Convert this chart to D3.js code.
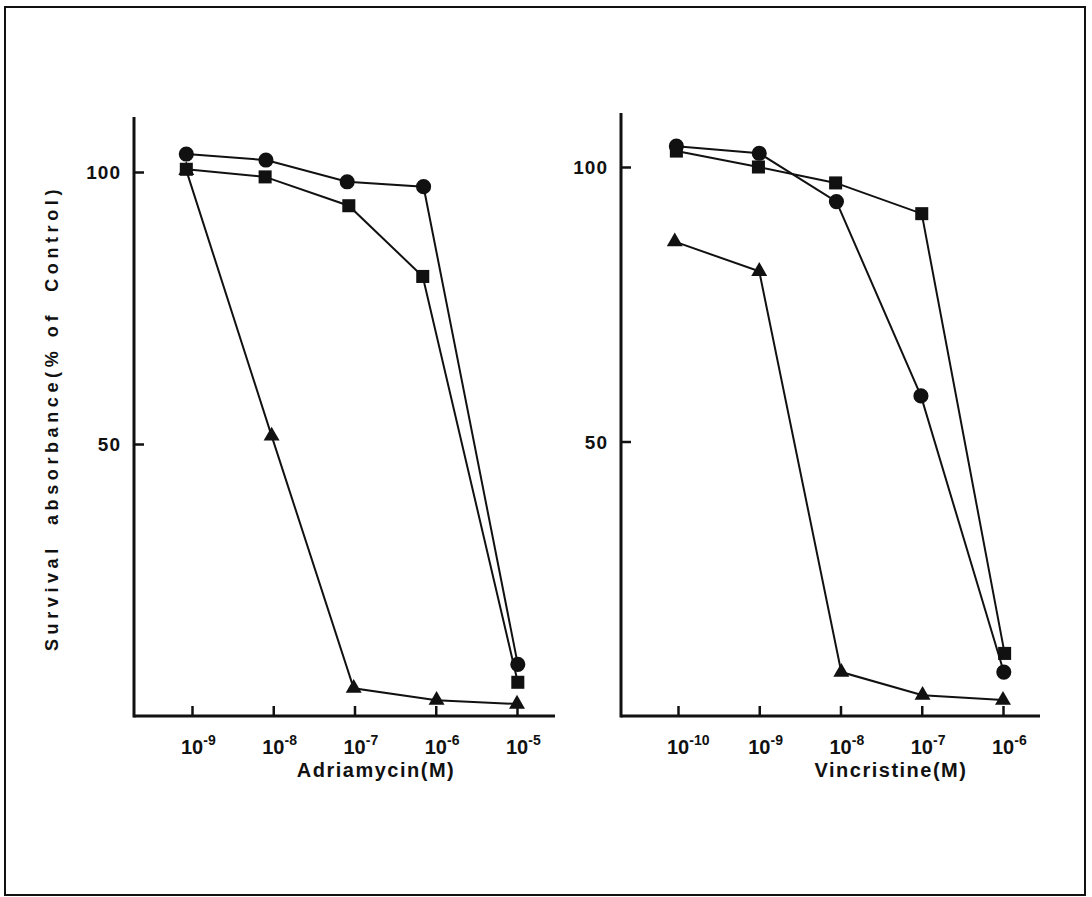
<!DOCTYPE html>
<html>
<head>
<meta charset="utf-8">
<script src="https://cdn.jsdelivr.net/npm/d3@7"></script>
<style>
  body { margin: 0; background: #fff; }
  text { font-family: "Liberation Sans", Arial, sans-serif; font-weight: bold; fill: #111; }
</style>
</head>
<body>
<script>
// values (x as log10 of molar concentration, y as % of control)
var adriaCircleX = [-9.07, -8.09, -7.09, -6.15, -4.99];
var adriaCircleY = [103.3, 102.2, 98.2, 97.3, 9.5];
var adriaSquareX = [-9.07, -8.10, -7.07, -6.16, -4.99];
var adriaSquareY = [100.5, 99.1, 93.8, 80.8, 6.2];
var adriaTriX = [-9.07, -8.02, -7.01, -5.99, -5.0];
var adriaTriY = [100.3, 51.5, 5.1, 2.9, 2.2];

var vinCircleX = [-10.02, -9.0, -8.05, -7.01, -5.99];
var vinCircleY = [103.8, 102.5, 93.7, 58.3, 8.0];
var vinSquareX = [-10.02, -9.01, -8.06, -7.0, -5.98];
var vinSquareY = [102.9, 100.0, 97.1, 91.5, 11.4];
var vinTriX = [-10.04, -9.0, -7.99, -6.99, -6.0];
var vinTriY = [86.4, 81.0, 8.0, 3.8, 2.9];

var adriaTicks = [-9, -8, -7, -6, -5];
var vinTicks = [-10, -9, -8, -7, -6];
var yTicks = [50, 100];

var w = 1092, h = 897;

var svg = d3.select("body")
            .append("svg")
            .attr("width", w)
            .attr("height", h);

// frame round the whole figure
svg.append("rect")
    .attr("x", 5).attr("y", 7)
    .attr("width", 1080).attr("height", 888)
    .attr("fill", "none")
    .attr("stroke", "#111")
    .attr("stroke-width", 2);

function zip(xs, ys) {
    return xs.map(function(x, i) { return {x: Math.pow(10, x), y: ys[i]}; });
}

function panel(p) {
    var x = d3.scaleLog()
        .domain([Math.pow(10, p.ticks[0]), Math.pow(10, p.ticks[p.ticks.length - 1])])
        .range([p.firstTick, p.lastTick]);
    var y = d3.scaleLinear().domain([0, 100]).range([p.bottom, p.y100]);

    var g = svg.append("g");

    // x axis, ticks pointing up into the plot
    var xa = g.append("g")
        .attr("transform", "translate(0," + p.bottom + ")")
        .call(d3.axisBottom(x)
            .tickValues(p.ticks.map(function(t) { return Math.pow(10, t); }))
            .tickSize(-10)
            .tickFormat(""));
    xa.select(".domain").remove();
    xa.selectAll("line").attr("stroke", "#111").attr("stroke-width", 2.5);
    xa.append("line")
        .attr("x1", p.left).attr("x2", p.right)
        .attr("stroke", "#111").attr("stroke-width", 3);

    // tick labels 10^n
    p.ticks.forEach(function(t) {
        var tx = g.append("text")
            .attr("x", x(Math.pow(10, t)) - 11)
            .attr("y", p.bottom + 38)
            .style("font-size", "20px");
        tx.append("tspan").style("font-size", "20px").text("10");
        tx.append("tspan")
            .attr("dy", -9)
            .style("font-size", "14px")
            .text(t);
    });

    // y axis, ticks pointing right
    var ya = g.append("g")
        .attr("transform", "translate(" + p.left + ",0)")
        .call(d3.axisLeft(y).tickValues(yTicks).tickSize(-10).tickFormat(""));
    ya.select(".domain").remove();
    ya.selectAll("line").attr("stroke", "#111").attr("stroke-width", 2.5);
    ya.append("line")
        .attr("y1", p.top).attr("y2", p.bottom + 1.5)
        .attr("stroke", "#111").attr("stroke-width", 3);

    yTicks.forEach(function(v) {
        g.append("text")
            .attr("x", p.left - 13)
            .attr("y", y(v) + 7)
            .attr("text-anchor", "end")
            .style("font-size", "19px")
            .style("letter-spacing", "1px")
            .text(v);
    });

    g.append("text")
        .attr("x", p.labelX)
        .attr("y", p.bottom + 61)
        .attr("text-anchor", "middle")
        .style("font-size", "20px")
        .style("letter-spacing", "1.5px")
        .text(p.label);

    var line = d3.line()
        .x(function(d) { return x(d.x); })
        .y(function(d) { return y(d.y); });

    p.series.forEach(function(s) {
        var pts = zip(s.xs, s.ys);
        g.append("path")
            .datum(pts)
            .attr("d", line)
            .attr("fill", "none")
            .attr("stroke", "#111")
            .attr("stroke-width", 2);

        g.selectAll(null)
            .data(pts)
            .enter()
            .append("path")
            .attr("transform", function(d) { return "translate(" + x(d.x) + "," + y(d.y) + ")"; })
            .attr("d", d3.symbol().type(s.shape).size(s.size))
            .attr("fill", "#111");
    });
}

panel({
    ticks: adriaTicks, firstTick: 192, lastTick: 517,
    left: 134, right: 555, top: 117, bottom: 716, y100: 172,
    label: "Adriamycin(M)", labelX: 376,
    series: [
        {xs: adriaTriX, ys: adriaTriY, shape: d3.symbolTriangle, size: 110},
        {xs: adriaSquareX, ys: adriaSquareY, shape: d3.symbolSquare, size: 170},
        {xs: adriaCircleX, ys: adriaCircleY, shape: d3.symbolCircle, size: 180}
    ]
});

panel({
    ticks: vinTicks, firstTick: 678, lastTick: 1003,
    left: 621, right: 1040, top: 113, bottom: 716, y100: 167,
    label: "Vincristine(M)", labelX: 891,
    series: [
        {xs: vinTriX, ys: vinTriY, shape: d3.symbolTriangle, size: 110},
        {xs: vinSquareX, ys: vinSquareY, shape: d3.symbolSquare, size: 170},
        {xs: vinCircleX, ys: vinCircleY, shape: d3.symbolCircle, size: 180}
    ]
});

// shared y label
svg.append("text")
    .attr("transform", "translate(58,418) rotate(-90)")
    .attr("text-anchor", "middle")
    .style("font-size", "18px")
    .style("letter-spacing", "4.6px")
    .style("white-space", "pre")
    .text("Survival  absorbance(% of  Control)");
</script>
</body>
</html>
